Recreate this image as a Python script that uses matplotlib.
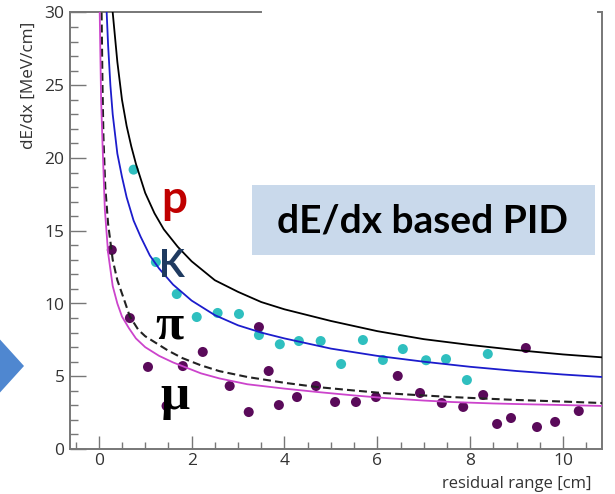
import matplotlib
matplotlib.use('Agg')
import matplotlib.pyplot as plt
from matplotlib.patches import Polygon, Rectangle
from matplotlib.ticker import MultipleLocator

# curves (residual range [cm], dE/dx [MeV/cm])
p_x = [0.30, 0.40, 0.50, 0.60, 0.70, 0.80, 0.90, 1.0, 1.2, 1.4, 1.7, 2.0, 2.5,
       3.0, 3.5, 4.0, 4.5, 5.0, 6.0, 7.0, 8.0, 9.0, 10.0, 10.84]
p_y = [30.0, 26.6, 24.0, 22.2, 20.8, 19.6, 18.6, 17.6, 16.2, 15.1, 13.9, 12.9, 11.6,
       10.8, 10.1, 9.6, 9.2, 8.8, 8.1, 7.55, 7.15, 6.8, 6.5, 6.3]

k_x = [0.17, 0.20, 0.25, 0.30, 0.40, 0.50, 0.60, 0.75, 0.90, 1.1, 1.3, 1.6, 2.0,
       2.5, 3.0, 3.5, 4.0, 5.0, 6.0, 7.0, 8.0, 9.0, 10.0, 10.84]
k_y = [30.0, 27.8, 25.0, 23.0, 20.3, 18.7, 17.3, 15.7, 14.6, 13.3, 12.4, 11.3, 10.2,
       9.2, 8.5, 8.0, 7.6, 6.9, 6.4, 6.0, 5.65, 5.36, 5.12, 4.95]

pi_x = [0.06, 0.08, 0.10, 0.14, 0.20, 0.30, 0.40, 0.52, 0.67, 0.85, 1.0, 1.2, 1.5,
        1.8, 2.2, 2.6, 3.2, 4.0, 4.7, 5.5, 6.1, 7.0, 7.6, 8.5, 9.0, 10.0, 10.84]
pi_y = [30.0, 25.0, 21.5, 18.0, 15.5, 13.0, 11.6, 10.5, 9.1, 8.2, 7.75, 7.35, 6.75,
        6.25, 5.75, 5.35, 4.95, 4.55, 4.26, 4.02, 3.85, 3.68, 3.57, 3.44, 3.37, 3.26, 3.16]

mu_x = [0.02, 0.05, 0.08, 0.13, 0.20, 0.30, 0.40, 0.50, 0.65, 0.80, 1.0, 1.3, 1.6,
        1.8, 2.2, 2.6, 3.2, 4.0, 4.7, 5.5, 6.1, 7.0, 7.6, 8.5, 9.0, 10.0, 10.84]
mu_y = [30.0, 24.0, 21.0, 16.5, 13.5, 11.2, 10.0, 9.1, 8.3, 7.6, 7.0, 6.4, 5.95,
        5.7, 5.2, 4.85, 4.45, 4.15, 3.92, 3.68, 3.52, 3.33, 3.23, 3.13, 3.09, 3.02, 2.96]

# measured points
kaon_x = [0.75, 1.23, 1.68, 2.11, 2.56, 3.02, 3.45, 3.90, 4.31, 4.78, 5.22, 5.69,
          6.12, 6.55, 7.05, 7.48, 7.93, 8.38]
kaon_y = [19.2, 12.85, 10.65, 9.07, 9.35, 9.28, 7.83, 7.2, 7.42, 7.42, 5.84, 7.49,
          6.12, 6.87, 6.1, 6.18, 4.74, 6.53]

muon_x = [0.28, 0.67, 1.06, 1.46, 1.81, 2.24, 2.82, 3.23, 3.45, 3.66, 3.88, 4.27,
          4.68, 5.09, 5.54, 5.97, 6.44, 6.92, 7.39, 7.85, 8.28, 8.58, 8.88, 9.20,
          9.44, 9.83, 10.34]
muon_y = [13.68, 9.0, 5.64, 2.96, 5.70, 6.67, 4.33, 2.54, 8.38, 5.36, 3.02, 3.57,
          4.33, 3.23, 3.23, 3.57, 5.02, 3.85, 3.16, 2.89, 3.71, 1.72, 2.13, 6.94,
          1.51, 1.86, 2.61]

W, H = 615, 494
fig = plt.figure(figsize=(W / 100, H / 100), dpi=100)
ax = fig.add_axes([70 / W, (H - 449) / H, (602 - 70) / W, (449 - 12.5) / H])

ax.scatter(kaon_x, kaon_y, s=52, color='#2fbfbf', edgecolors='none', zorder=2)
ax.scatter(muon_x, muon_y, s=52, color='#5a0a5a', edgecolors='none', zorder=2)

ax.plot(p_x, p_y, color='black', lw=1.3, zorder=3)
ax.plot(k_x, k_y, color='#1c1ccc', lw=1.3, zorder=3)
ax.plot(pi_x, pi_y, color='#222222', lw=1.5, ls=(0, (3.8, 2.0)), zorder=3)
ax.plot(mu_x, mu_y, color='#cc44cc', lw=1.3, zorder=3)

ax.set_xlim(-0.62, 10.84)
ax.set_ylim(0, 30)

grey = '#777777'
for side in ['left', 'bottom', 'right', 'top']:
    ax.spines[side].set_color(grey)
    ax.spines[side].set_linewidth(1.4)
ax.spines['top'].set_bounds(-0.62, 3.5)
ax.plot([10.75, 10.84], [30, 30], color=grey, lw=1.4, clip_on=False)

ax.xaxis.set_major_locator(MultipleLocator(2))
ax.xaxis.set_minor_locator(MultipleLocator(0.5))
ax.yaxis.set_major_locator(MultipleLocator(5))
ax.yaxis.set_minor_locator(MultipleLocator(1))
ax.tick_params(axis='both', which='both', direction='in', color=grey,
               labelcolor='#333333', labelsize=12.5, width=1)
ax.tick_params(axis='y', which='major', length=11.5, pad=4)
ax.tick_params(axis='y', which='minor', length=5.8)
ax.tick_params(axis='x', which='major', length=9.4, pad=3)
ax.tick_params(axis='x', which='minor', length=5)
for lab in ax.get_xticklabels() + ax.get_yticklabels():
    lab.set_family('Open Sans')

fig.text(29 / W, (H - 85) / H, 'dE/dx [MeV/cm]', rotation=90, ha='center',
         va='center', fontsize=12.3, family='Open Sans', color='#333333')
fig.text(591 / W, (H - 484) / H, 'residual range [cm]', ha='right',
         va='center', fontsize=12, family='Open Sans', color='#333333')

# particle labels
ax.text(1.62, 17.1, 'p', color='#c00000', fontsize=33, fontweight='bold',
        family='Lato', ha='center', va='center')
ax.text(1.58, 12.55, 'K', color='#1f3a60', fontsize=27, fontweight='bold',
        family='Lato', ha='center', va='center')
ax.text(1.51, 8.45, 'π', color='black', fontsize=37, fontweight='bold',
        family='Liberation Serif', ha='center', va='center')
ax.text(1.65, 3.57, 'μ', color='black', fontsize=37, fontweight='bold',
        family='Liberation Serif', ha='center', va='center')

# PID box
fig.patches.append(Rectangle((252 / W, (H - 255) / H), (595 - 252) / W, 70 / H,
                             transform=fig.transFigure, facecolor='#c9d9eb',
                             edgecolor='none', zorder=5))
fig.text(423 / W, (H - 221) / H, 'dE/dx based PID', ha='center', va='center',
         fontsize=28, fontweight='bold', family='Lato', color='black', zorder=6)

# arrow head at left edge
fig.patches.append(Polygon([(-5 / W, (H - 334) / H), (-5 / W, (H - 398) / H),
                            (24 / W, (H - 366) / H)], closed=True,
                           transform=fig.transFigure, facecolor='#4f87d0',
                           edgecolor='none'))

fig.savefig('out.png', dpi=100)
